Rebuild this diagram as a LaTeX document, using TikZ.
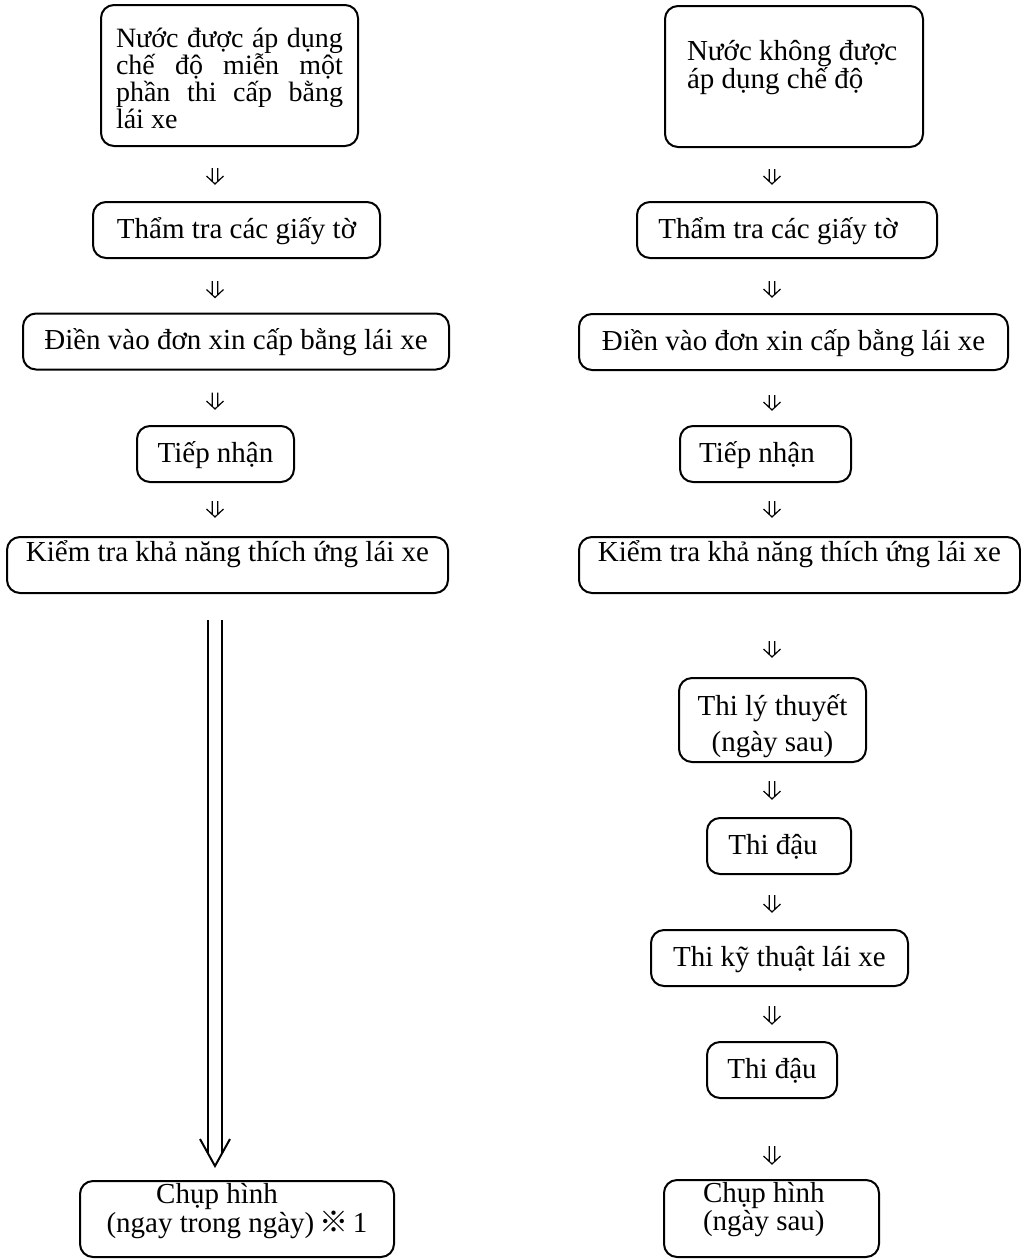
\documentclass[tikz,border=0pt]{standalone}
\usepackage{fontspec}
\setmainfont{Liberation Serif}
\newfontfamily\cjk{Noto Sans CJK JP}
\usetikzlibrary{calc}
\tikzset{
  stage/.style={draw, line width=1pt, rounded corners=6.5pt, inner sep=0pt, text height=18pt, text depth=10pt},
  flow/.style 2 args={line width=0.6pt, to path={
    ($(\tikztostart)+(-2.8,#1)$) -- ($(\tikztotarget)+(-2.8,-#2-2.6)$)
    ($(\tikztostart)+(2.8,#1)$) -- ($(\tikztotarget)+(2.8,-#2-2.6)$)
    ($(\tikztotarget)+(-8.5,-#2-8)$) -- ($(\tikztotarget)+(0,-#2)$) -- ($(\tikztotarget)+(8.5,-#2-8)$)}},
  shaft/.style={line width=1pt},
}
\lineskiplimit=-20pt

\begin{document}
\begin{tikzpicture}[x=0.5pt, y=-0.5pt, font=\fontsize{14.5}{13.5}\selectfont]
  \useasboundingbox (0,0) rectangle (1021,1260);
  \coordinate (colL) at (215,0);
  \coordinate (colR) at (772,0);

  \node[stage, minimum width=128.5pt, text height=21pt, text depth=49.5pt, font=\fontsize{14}{13.5}\selectfont] (nL) at (229.5,75.5) {\parbox[t]{113.5pt}{\tolerance=10000\hyphenpenalty=10000 Nước được áp dụng\linebreak chế độ miễn một\linebreak phần thi cấp bằng\linebreak lái xe}};
  \node[stage, minimum width=143.5pt] (thL) at (236.5,230) {Thẩm tra các giấy tờ};
  \node[stage, minimum width=213pt] (dnL) at (236,341.5) {Điền vào đơn xin cấp bằng lái xe};
  \node[stage, minimum width=78.5pt] (tnL) at (215.5,454) {Tiếp nhận};
  \node[stage, minimum width=220.5pt, text height=12pt, text depth=16pt] (klL) at (227.5,565) {Kiểm tra khả năng thích ứng lái xe};
  \node[stage, minimum width=157pt, text height=11pt, text depth=27pt] (chL) at (237,1219) {\parbox[t]{157pt}{\centering Chụp hình\hspace*{20pt}\mbox{}\\(ngay trong ngày)\,{\cjk ※}\,1}};

  \node[stage, minimum width=129pt, text height=27pt, text depth=43.5pt, font=\fontsize{14.5}{14}\selectfont] (nR) at (794,76.5) {\parbox[t]{107pt}{Nước không được\\áp dụng chế độ}};
  \node[stage, minimum width=150pt] (thR) at (787,230) {Thẩm tra các giấy tờ\hspace*{9pt}};
  \node[stage, minimum width=214.5pt] (dnR) at (793.5,342) {Điền vào đơn xin cấp bằng lái xe};
  \node[stage, minimum width=85.5pt] (tnR) at (765.5,454) {Tiếp nhận\hspace*{8.5pt}};
  \node[stage, minimum width=220.5pt, text height=12pt, text depth=16pt] (klR) at (799.5,565) {Kiểm tra khả năng thích ứng lái xe};
  \node[stage, minimum width=93.5pt, text height=18.5pt, text depth=23.5pt, font=\fontsize{14.5}{18}\selectfont] (ltR) at (772.5,720) {\parbox[t]{93.5pt}{\centering Thi lý thuyết\\(ngày sau)}};
  \node[stage, minimum width=72pt] (td1) at (779,846) {Thi đậu\hspace*{6pt}};
  \node[stage, minimum width=128.5pt] (kt) at (779.5,958) {Thi kỹ thuật lái xe};
  \node[stage, minimum width=65pt] (td2) at (772,1070) {Thi đậu};
  \node[stage, minimum width=107.5pt, text height=11pt, text depth=27.5pt, font=\fontsize{14.5}{13}\selectfont] (chR) at (771.5,1218.5) {\parbox[t]{68.5pt}{Chụp hình\\(ngày sau)}};

  \draw[flow={21}{17}] (nL.south -| colL) to (thL.north -| colL);
  \draw[flow={22}{15}] (thL.south -| colL) to (dnL.north -| colL);
  \draw[flow={22}{16}] (dnL.south -| colL) to (tnL.north -| colL);
  \draw[flow={18}{19}] (tnL.south -| colL) to (klL.north -| colL);

  \draw[shaft] ($(colL |- klL.south)+(-7,26)$) -- ($(colL |- chL.north)+(-7,-27)$);
  \draw[shaft] ($(colL |- klL.south)+(7,26)$) -- ($(colL |- chL.north)+(7,-27)$);
  \draw[shaft] ($(colL |- chL.north)+(-15,-41)$) -- ($(colL |- chL.north)+(0,-14)$) -- ($(colL |- chL.north)+(15,-41)$);

  \draw[flow={21}{17}] (nR.south -| colR) to (thR.north -| colR);
  \draw[flow={22}{16}] (thR.south -| colR) to (dnR.north -| colR);
  \draw[flow={24}{15}] (dnR.south -| colR) to (tnR.north -| colR);
  \draw[flow={18}{19}] (tnR.south -| colR) to (klR.north -| colR);
  \draw[flow={47}{20}] (klR.south -| colR) to (ltR.north -| colR);
  \draw[flow={18}{18}] (ltR.south -| colR) to (td1.north -| colR);
  \draw[flow={20}{17}] (td1.south -| colR) to (kt.north -| colR);
  \draw[flow={19}{17}] (kt.south -| colR) to (td2.north -| colR);
  \draw[flow={47}{15}] (td2.south -| colR) to (chR.north -| colR);
\end{tikzpicture}
\end{document}
